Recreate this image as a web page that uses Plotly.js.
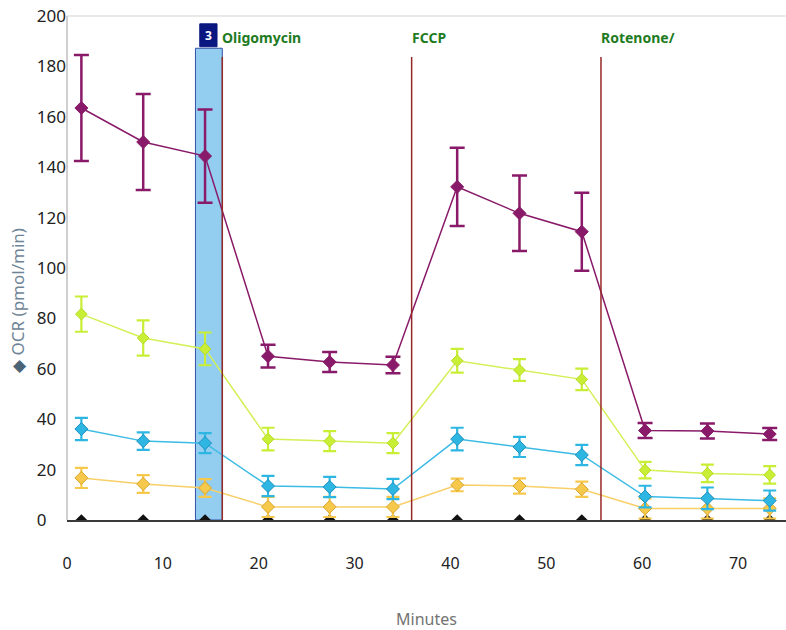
<!DOCTYPE html>
<html>
<head>
<meta charset="utf-8">
<script src="https://cdn.plot.ly/plotly-3.0.1.min.js"></script>
<style>html,body{margin:0;padding:0;background:#fff;}#chart{width:786px;height:630px;}</style>
</head>
<body>
<div id="chart"></div>
<script>
// Measurement times (minutes)
const minutes = [1.5, 7.95, 14.4, 20.97, 27.4, 34.0, 40.7, 47.2, 53.7, 60.3, 66.8, 73.3];

// OCR series (pmol/min) and their error bars
const purpleOCR = [163.5, 150, 144.4, 65, 62.7, 61.5, 132.2, 121.7, 114.4, 35.5, 35.3, 34.1];
const purpleErr = [21, 19, 18.5, 4.5, 4, 3.3, 15.5, 15, 15.5, 3, 3, 2.4];

const limeOCR = [81.7, 72.2, 67.9, 32.1, 31.3, 30.5, 63.2, 59.5, 55.8, 19.8, 18.5, 17.9];
const limeErr = [7, 7, 6.5, 4.5, 4, 4, 4.7, 4.3, 4.3, 3.3, 3.5, 3.5];

const cyanOCR = [36.1, 31.3, 30.5, 13.5, 13.1, 12.3, 32.1, 29, 25.8, 9.3, 8.6, 7.7];
const cyanErr = [4.4, 3.5, 4, 4, 4, 4, 4.5, 4, 4, 4.3, 4.3, 4];

const goldOCR = [16.7, 14.3, 12.7, 5.2, 5.2, 5.2, 13.9, 13.5, 12.2, 4.6, 4.6, 4.6];
const goldErr = [4, 3.5, 3.5, 4, 4, 4, 2.5, 3, 3, 4, 4, 4];

const blackOCR = [0, 0, 0, 0, 0, 0, 0, 0, 0, 0, 0, 0];

// Injections
const injectionTimes = [16.2, 35.95, 55.7];
const injectionLabels = ["Oligomycin", "FCCP", "Rotenone/"];
const selectedMeasurement = "3";
const selectedStart = 13.4, selectedEnd = 16.2;

// Axis ticks
const yTickVals = [0, 20, 40, 60, 80, 100, 120, 140, 160, 180, 200];
const xTickVals = [0, 10, 20, 30, 40, 50, 60, 70];

const FONT = "Noto Sans, Open Sans, sans-serif";

function series(name, y, err, color, lineColor, edge, size, thick, capw) {
  return {
    type: "scatter", mode: "lines+markers", name: name,
    x: minutes, y: y,
    line: {color: lineColor, width: 1.5},
    marker: {symbol: "diamond", size: size, color: color, line: {color: edge, width: 1}},
    error_y: {type: "data", array: err, visible: true, color: color, thickness: thick, width: capw},
    showlegend: false
  };
}

const traces = [
  {type: "scatter", mode: "markers", x: minutes, y: blackOCR, name: "Background",
   marker: {symbol: "diamond", size: 9, color: "#111"}, showlegend: false},
  series("Group 4", goldOCR, goldErr, "#F6C84C", "#F8CF68", "#D9A52A", 10, 2.2, 6.5),
  series("Group 3", cyanOCR, cyanErr, "#2DB6E2", "#3CBBE4", "#1B8FC0", 10, 2.2, 6.5),
  series("Group 2", limeOCR, limeErr, "#C9EE36", "#D3F056", "#B5DB25", 9, 2.2, 6.5),
  series("Group 1", purpleOCR, purpleErr, "#891A69", "#891A69", "#891A69", 10, 2.5, 7.5)
];

// figure-space padding gives left-aligned tick labels
const maxLen = Math.max(...yTickVals.map(v => String(v).length));
const yTickText = yTickVals.map(v => String(v) + "\u2007".repeat(maxLen - String(v).length));

const shapes = [
  // selected measurement column
  {type: "rect", xref: "x", yref: "y", x0: selectedStart, x1: selectedEnd, y0: 0, y1: 187.2,
   fillcolor: "#93CEF1", line: {color: "#3452A8", width: 1}, layer: "below"},
  {type: "rect", xref: "x", yref: "y", x0: 13.85, x1: 15.65, y0: 187.8, y1: 196.9,
   fillcolor: "#0B1780", line: {color: "#0B1780", width: 1}, layer: "above"},
  // top border line
  {type: "line", xref: "paper", yref: "paper", x0: 0, x1: 1, y0: 1, y1: 1,
   line: {color: "#E2E2E2", width: 1.5}},
  // left axis line
  {type: "line", xref: "paper", yref: "paper", x0: 0, x1: 0, y0: 0, y1: 1,
   line: {color: "#CFCFCF", width: 2}}
];
injectionTimes.forEach(t => shapes.push({
  type: "line", xref: "x", yref: "y", x0: t, x1: t, y0: 0, y1: 183.7,
  line: {color: "#962828", width: 1.5}, layer: "above"
}));

const annotations = injectionLabels.map((txt, i) => ({
  x: injectionTimes[i], y: 191.6, xref: "x", yref: "y", xshift: -2,
  text: "<b>" + txt + "</b>", showarrow: false, xanchor: "left", yanchor: "middle",
  font: {family: FONT, size: 14, color: "#1E7B22"}
}));
annotations.push({
  x: 14.75, y: 192.3, xref: "x", yref: "y", text: "<b>" + selectedMeasurement + "</b>",
  showarrow: false, xanchor: "center", yanchor: "middle",
  font: {family: FONT, size: 12, color: "#FFFFFF"}
});
annotations.push({
  xref: "paper", yref: "paper", x: -0.068, y: 0.435, xanchor: "center", yanchor: "middle",
  textangle: -90, showarrow: false,
  text: "<span style='color:#4B6475'>\u25C6</span> OCR (pmol/min)",
  font: {family: FONT, size: 17, color: "#6E8496"}
});

const layout = {
  width: 786, height: 630,
  margin: {l: 67, r: 0, t: 16, b: 110, pad: 0},
  paper_bgcolor: "#FFFFFF", plot_bgcolor: "#FFFFFF",
  font: {family: FONT, color: "#222"},
  xaxis: {
    range: [0, 75], tickvals: xTickVals, ticktext: xTickVals.map(String),
    showgrid: false, zeroline: false, showline: true, linecolor: "#3A3A3A", linewidth: 2,
    ticks: "outside", ticklen: 28, tickcolor: "rgba(0,0,0,0)",
    tickfont: {family: FONT, size: 16, color: "#222"},
    title: {text: "Minutes", standoff: 42, font: {family: FONT, size: 16, color: "#737373"}}
  },
  yaxis: {
    range: [0, 200], tickvals: yTickVals, ticktext: yTickText,
    showgrid: false, zeroline: false, showline: false, ticks: "",
    tickfont: {family: FONT, size: 17, color: "#222"}
  },
  shapes: shapes,
  annotations: annotations,
  showlegend: false
};

Plotly.newPlot("chart", traces, layout, {displayModeBar: false, staticPlot: true});
</script>
</body>
</html>
